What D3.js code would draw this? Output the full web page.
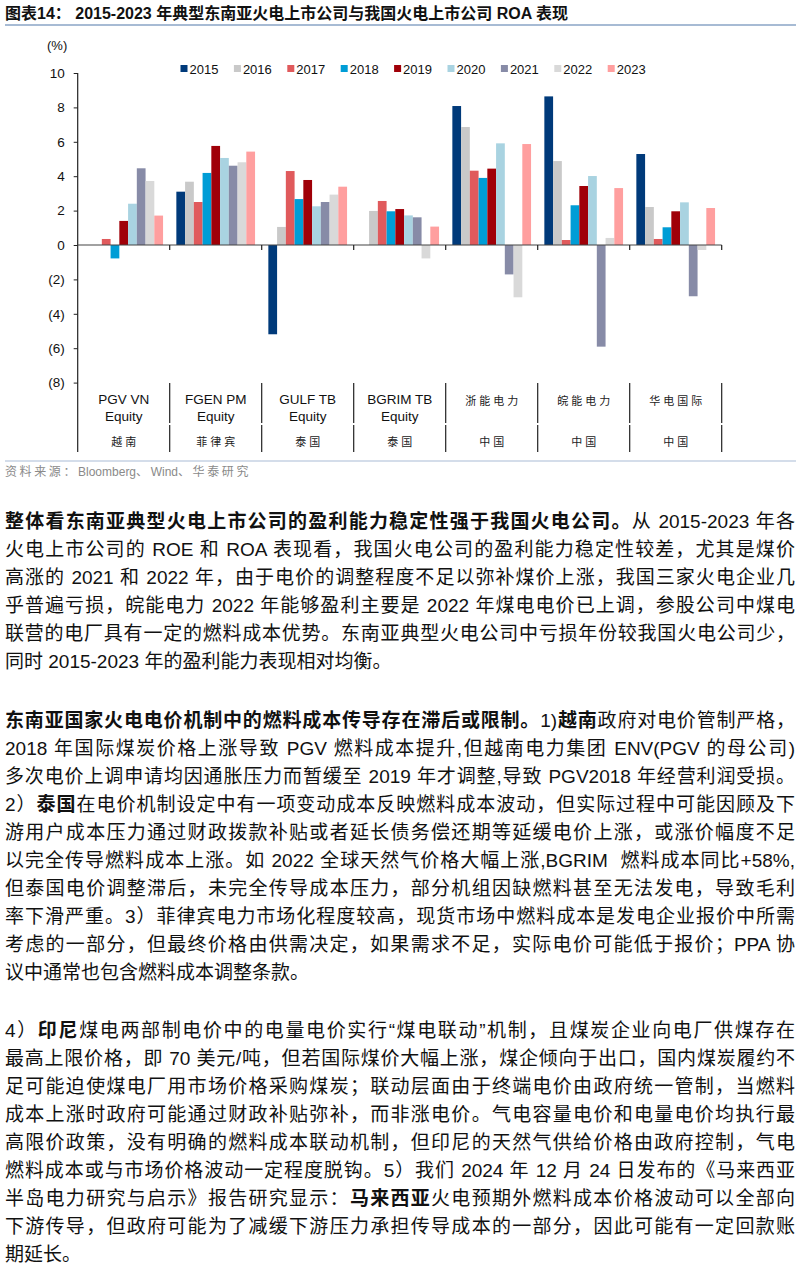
<!DOCTYPE html>
<html><head><meta charset="utf-8">
<script src="https://cdn.jsdelivr.net/npm/d3@7/dist/d3.min.js"></script>
<style>
body{margin:0;background:#fff;width:800px;height:1271px;position:relative;overflow:hidden;}
svg{position:absolute;left:0;top:0;}
.ln{position:absolute;left:5px;width:790px;height:28px;line-height:28px;font-family:"Liberation Sans Narrow","Liberation Sans",Arial,"Noto Sans CJK SC",sans-serif;font-size:19px;color:#111;white-space:nowrap;text-align:justify;text-align-last:justify;}
.ln.last{text-align-last:left;}
.ln b{font-weight:bold;}
</style></head><body>
<svg id="chart" width="800" height="490"></svg>
<div id="text"></div>
<script>
const categories = ["PGV VN|Equity","FGEN PM|Equity","GULF TB|Equity","BGRIM TB|Equity","浙能电力","皖能电力","华电国际"];
const countries = ["越南","菲律宾","泰国","泰国","中国","中国","中国"];
const years = ["2015","2016","2017","2018","2019","2020","2021","2022","2023"];
const colors = ["#003A7A","#C9C9C9","#E05A5C","#009DD6","#A00008","#A9D3E1","#878BA7","#D9D9D9","#FF9F9F"];
// ROA values (%) per category, in year order 2015..2023
const valPGV   = [0, 0, 0.35, -0.78, 1.40, 2.40, 4.46, 3.72, 1.71];
const valFGEN  = [3.10, 3.68, 2.50, 4.19, 5.76, 5.06, 4.61, 4.81, 5.43];
const valGULF  = [-5.19, 1.05, 4.30, 2.67, 3.78, 2.25, 2.50, 2.93, 3.39];
const valBGRIM = [0, 1.98, 2.56, 1.96, 2.09, 1.72, 1.61, -0.78, 1.07];
const valZN    = [8.08, 6.86, 4.32, 3.90, 4.44, 5.91, -1.71, -3.04, 5.87];
const valWN    = [8.64, 4.88, 0.29, 2.31, 3.43, 4.01, -5.91, 0.41, 3.31];
const valHD    = [5.29, 2.21, 0.35, 1.03, 1.96, 2.48, -2.98, -0.29, 2.15];
const yTicks = [-8,-6,-4,-2,0,2,4,6,8,10];
const values = [valPGV,valFGEN,valGULF,valBGRIM,valZN,valWN,valHD];

const svg = d3.select("#chart");
const font = "'Liberation Sans',Arial,sans-serif";
// title
svg.append("text").attr("x",5).attr("y",18.5).attr("font-family",font+",'Noto Sans CJK SC'")
  .attr("font-size",16).attr("font-weight","bold").attr("fill","#111")
  .text("图表14： 2015-2023 年典型东南亚火电上市公司与我国火电上市公司 ROA 表现");
svg.append("line").attr("x1",5).attr("x2",796).attr("y1",25).attr("y2",25).attr("stroke","#8AA4C6").attr("stroke-width",1.3);

const x = d3.scaleBand().domain(d3.range(categories.length)).range([77.7,721.7]).padding(0);
const xi = d3.scaleBand().domain(years).range([0,x.bandwidth()]).paddingInner(0).paddingOuter(0.76);
const y = d3.scaleLinear().domain([-8,10]).range([382.6,73]);

// bars
categories.forEach((c,ci)=>{
  const g = svg.append("g").attr("transform",`translate(${x(ci)},0)`);
  g.selectAll("rect").data(years.map((yr,i)=>({yr,v:values[ci][i],c:colors[i]})).filter(d=>d.v!==0))
   .join("rect").attr("x",d=>xi(d.yr)).attr("width",xi.bandwidth())
   .attr("y",d=>y(Math.max(0,d.v))).attr("height",d=>Math.abs(y(d.v)-y(0)))
   .attr("fill",d=>d.c);
});

// y axis
const yAxis = d3.axisLeft(y).tickValues(yTicks).tickSize(4).tickPadding(9)
  .tickFormat(d=>d<0?`(${-d})`:`${d}`);
const ga = svg.append("g").attr("transform","translate(77.7,0)").call(yAxis);
ga.select(".domain").remove();
ga.selectAll("text").attr("font-family",font).attr("font-size",13.5).attr("fill","#111");
ga.selectAll("line").attr("stroke","#222");
svg.append("line").attr("x1",77.7).attr("x2",77.7).attr("y1",73).attr("y2",452).attr("stroke","#222").attr("stroke-width",1.2);
svg.append("text").attr("x",47).attr("y",50).attr("font-family",font).attr("font-size",13).attr("fill","#111").text("(%)");

// zero line + ticks
svg.append("line").attr("x1",77.7).attr("x2",721.7).attr("y1",y(0)).attr("y2",y(0)).attr("stroke","#444").attr("stroke-width",1.2);
d3.range(1,categories.length+1).forEach(i=>{
  const xx = i<categories.length? x(i): x(i-1)+x.bandwidth();
  svg.append("line").attr("x1",xx).attr("x2",xx).attr("y1",y(0)).attr("y2",y(0)+5).attr("stroke","#222").attr("stroke-width",1.2);
  svg.append("line").attr("x1",xx).attr("x2",xx).attr("y1",383).attr("y2",423).attr("stroke","#222").attr("stroke-width",1.2);
  svg.append("line").attr("x1",xx).attr("x2",xx).attr("y1",425).attr("y2",452).attr("stroke","#222").attr("stroke-width",1.2);
});

// category labels
categories.forEach((c,ci)=>{
  const cx = x(ci)+x.bandwidth()/2;
  const parts = c.split("|");
  if(parts.length===2){
    parts.forEach((p,pi)=>svg.append("text").attr("x",cx).attr("y",404+pi*17).attr("text-anchor","middle")
      .attr("font-family",font).attr("font-size",13.5).attr("fill","#111").text(p));
  } else {
    svg.append("text").attr("x",cx+1.5).attr("y",405).attr("text-anchor","middle")
      .attr("font-family","'Noto Sans CJK SC',sans-serif").attr("font-size",11).attr("letter-spacing",3).attr("fill","#222").text(c);
  }
  svg.append("text").attr("x",cx+1.5).attr("y",446).attr("text-anchor","middle")
    .attr("font-family","'Noto Sans CJK SC',sans-serif").attr("font-size",11).attr("letter-spacing",3).attr("fill","#222").text(countries[ci]);
});

// legend
const lg = svg.append("g");
years.forEach((yr,i)=>{
  const lx = 180.5 + i*53.4;
  lg.append("rect").attr("x",lx).attr("y",65).attr("width",7).attr("height",7).attr("fill",colors[i]);
  lg.append("text").attr("x",lx+9).attr("y",73.5).attr("font-family",font).attr("font-size",13).attr("fill","#111").text(yr);
});

// source
svg.append("line").attr("x1",5).attr("x2",796).attr("y1",461).attr("y2",461).attr("stroke","#A9BCD6").attr("stroke-width",1.2);
const src = svg.append("text").attr("x",5).attr("y",476).attr("font-size",12).attr("fill","#8a8a8a");
[["资料来源：",true],["Bloomberg",false],["、",true],["Wind",false],["、华泰研究",true]].forEach(p=>{
  src.append("tspan").attr("font-family",p[1]?"'Noto Sans CJK SC',sans-serif":font)
    .attr("letter-spacing",p[1]?2.6:0).text(p[0]);
});

// body text lines
const lines = [
 [522,"<b>整体看东南亚典型火电上市公司的盈利能力稳定性强于我国火电公司。</b>从 2015-2023 年各"],
 [550,"火电上市公司的 ROE 和 ROA 表现看，我国火电公司的盈利能力稳定性较差，尤其是煤价"],
 [578,"高涨的 2021 和 2022 年，由于电价的调整程度不足以弥补煤价上涨，我国三家火电企业几"],
 [606,"乎普遍亏损，皖能电力 2022 年能够盈利主要是 2022 年煤电电价已上调，参股公司中煤电"],
 [634,"联营的电厂具有一定的燃料成本优势。东南亚典型火电公司中亏损年份较我国火电公司少，"],
 [662,"同时 2015-2023 年的盈利能力表现相对均衡。",1],
 [721,"<b>东南亚国家火电电价机制中的燃料成本传导存在滞后或限制。</b>1)<b>越南</b>政府对电价管制严格，"],
 [749,"2018 年国际煤炭价格上涨导致 PGV 燃料成本提升,但越南电力集团 ENV(PGV 的母公司)"],
 [777,"多次电价上调申请均因通胀压力而暂缓至 2019 年才调整,导致 PGV2018 年经营利润受损。"],
 [805,"2）<b>泰国</b>在电价机制设定中有一项变动成本反映燃料成本波动，但实际过程中可能因顾及下"],
 [833,"游用户成本压力通过财政拨款补贴或者延长债务偿还期等延缓电价上涨，或涨价幅度不足"],
 [861,"以完全传导燃料成本上涨。如 2022 全球天然气价格大幅上涨,BGRIM&nbsp; 燃料成本同比+58%,"],
 [889,"但泰国电价调整滞后，未完全传导成本压力，部分机组因缺燃料甚至无法发电，导致毛利"],
 [917,"率下滑严重。3）菲律宾电力市场化程度较高，现货市场中燃料成本是发电企业报价中所需"],
 [945,"考虑的一部分，但最终价格由供需决定，如果需求不足，实际电价可能低于报价；PPA 协"],
 [973,"议中通常也包含燃料成本调整条款。",1],
 [1031,"4）<b>印尼</b>煤电两部制电价中的电量电价实行“煤电联动”机制，且煤炭企业向电厂供煤存在"],
 [1059,"最高上限价格，即 70 美元/吨，但若国际煤价大幅上涨，煤企倾向于出口，国内煤炭履约不"],
 [1087,"足可能迫使煤电厂用市场价格采购煤炭；联动层面由于终端电价由政府统一管制，当燃料"],
 [1115,"成本上涨时政府可能通过财政补贴弥补，而非涨电价。气电容量电价和电量电价均执行最"],
 [1143,"高限价政策，没有明确的燃料成本联动机制，但印尼的天然气供给价格由政府控制，气电"],
 [1171,"燃料成本或与市场价格波动一定程度脱钩。5）我们 2024 年 12 月 24 日发布的《马来西亚"],
 [1199,"半岛电力研究与启示》报告研究显示：<b>马来西亚</b>火电预期外燃料成本价格波动可以全部向"],
 [1227,"下游传导，但政府可能为了减缓下游压力承担传导成本的一部分，因此可能有一定回款账"],
 [1255,"期延长。",1]
];
const tdiv = d3.select("#text");
lines.forEach(l=>{
  tdiv.append("div").attr("class","ln"+(l[2]?" last":"")).style("top",(l[0]-14)+"px").html(l[1]);
});
</script>
</body></html>
